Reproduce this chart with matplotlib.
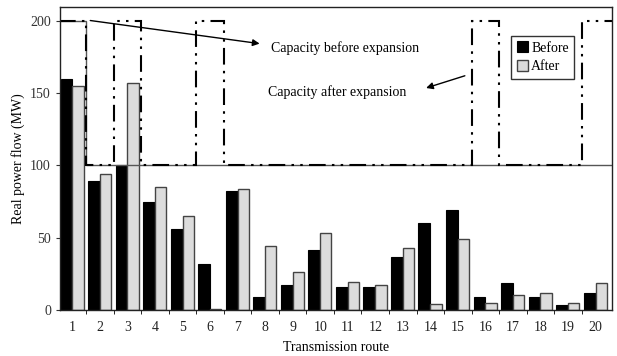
import numpy as np
import matplotlib
matplotlib.use("Agg")
import matplotlib.pyplot as plt

plt.rcParams['font.family'] = ['Liberation Serif', 'DejaVu Serif']

routes = list(range(1, 21))
before = [160, 89, 100, 75, 56, 32, 82, 9, 17, 41.5, 16, 16, 37, 60, 69, 9, 18.5, 9, 3.7, 12]
after = [155, 94, 157, 85, 65, 0.5, 83.5, 44, 26, 53, 19.5, 17.5, 43, 4.4, 49, 5, 10.5, 12, 5, 19]
cap_before = [200] + [100] * 19
cap_after = [200, 100, 200, 100, 100, 200, 100, 100, 100, 100,
             100, 100, 100, 100, 100, 200, 100, 100, 100, 200]

fig = plt.figure(figsize=(6.17, 3.56), dpi=100)
ax = fig.add_axes([0.0972, 0.129, 0.8948, 0.851])

x = np.array(routes, dtype=float)
ax.bar(x, before, width=-0.43, align='edge', color='black', edgecolor='black', linewidth=0.8, label='Before')
ax.bar(x, after, width=0.41, align='edge', color='#dcdcdc', edgecolor='#444444', linewidth=1.0, label='After')

edges = np.arange(0.5, 21.5, 1.0)
edges[-1] = 20.7
ax.stairs(cap_before, edges, baseline=None, color='#555555', linewidth=1.0)
ax.stairs(cap_after, edges, baseline=None, color='black', linewidth=1.5,
          linestyle=(0, (8, 3, 1.2, 3, 1.2, 3)))

ax.set_xlim(0.55, 20.6)
ax.set_ylim(0, 209.5)
ax.set_yticks([0, 50, 100, 150, 200])
ax.set_xticks(routes)
ax.set_xticklabels([str(r) for r in routes])
ax.set_xticks(np.arange(1.5, 20.5, 1.0), minor=True)
ax.tick_params(axis='x', which='major', length=0, pad=8, labelsize=10)
ax.tick_params(axis='x', which='minor', length=3, direction='out')
ax.tick_params(axis='y', length=3, labelsize=10, colors='#333333')
ax.tick_params(axis='x', colors='#222222')
for s in ax.spines.values():
    s.set_linewidth(1.0)
    s.set_color('#222222')

ax.set_xlabel('Transmission route', fontsize=10, labelpad=5)
ax.set_ylabel('Real power flow (MW)', fontsize=10)
ax.yaxis.set_label_coords(-0.064, 0.5)

ax.annotate('', xy=(7.9, 184), xytext=(1.55, 200.5),
            arrowprops=dict(arrowstyle='-|>', color='black', lw=1.0, mutation_scale=10))
ax.text(8.2, 181.5, 'Capacity before expansion', fontsize=10, ha='left', va='center')
ax.annotate('', xy=(13.75, 153), xytext=(15.35, 162.6),
            arrowprops=dict(arrowstyle='-|>', color='black', lw=1.0, mutation_scale=10))
ax.text(8.1, 151, 'Capacity after expansion', fontsize=10, ha='left', va='center')

leg = ax.legend(loc='upper left', bbox_to_anchor=(0.817, 0.905), fontsize=10,
                frameon=True, fancybox=False, handlelength=0.8, handleheight=0.8,
                handletextpad=0.25, borderpad=0.4, labelspacing=0.4, borderaxespad=0)
leg.get_frame().set_edgecolor('black')
leg.get_frame().set_linewidth(1.0)

fig.savefig('out.png', dpi=100)
